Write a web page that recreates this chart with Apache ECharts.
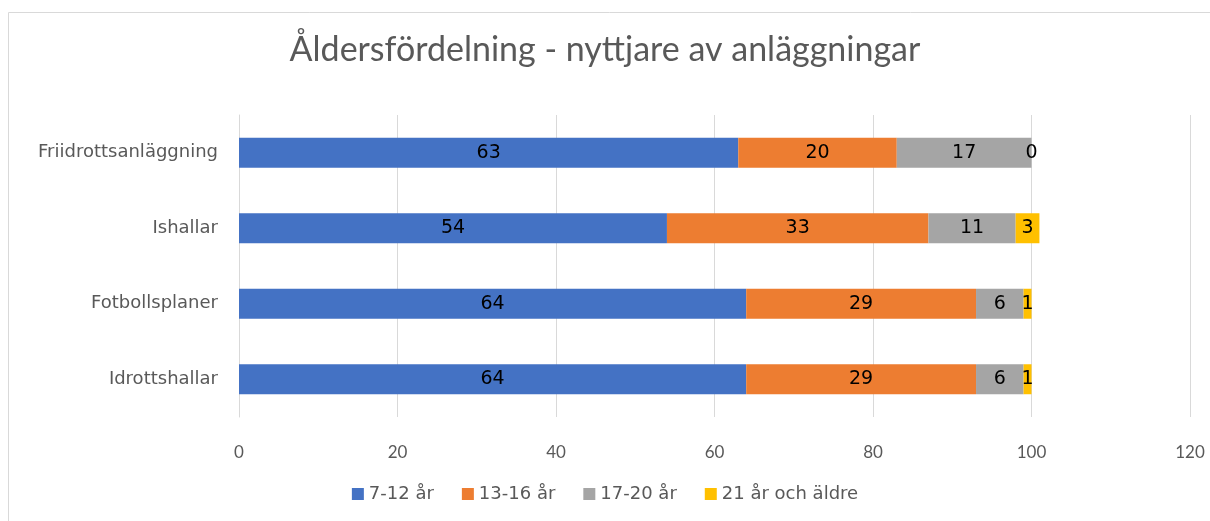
<!DOCTYPE html>
<html>
<head>
<meta charset="utf-8">
<script src="https://cdn.jsdelivr.net/npm/echarts@6/dist/echarts.min.js"></script>
<style>
  html, body { margin: 0; padding: 0; background: #fff; }
  #main { width: 1210px; height: 521px; }
</style>
</head>
<body>
<div id="main"></div>
<script>
// kategorier nerifrån och upp
var categories = ['Idrottshallar', 'Fotbollsplaner', 'Ishallar', 'Friidrottsanläggning'];
var seriesNames = ['7-12 år', '13-16 år', '17-20 år', '21 år och äldre'];
var age7to12 = [64, 64, 54, 63];
var age13to16 = [29, 29, 33, 20];
var age17to20 = [6, 6, 11, 17];
var age21plus = [1, 1, 3, 0];
var colors = ['#4472c4', '#ed7d31', '#a5a5a5', '#ffc000'];

var chart = echarts.init(document.getElementById('main'));

var allValues = [age7to12, age13to16, age17to20, age21plus];
var series = seriesNames.map(function (name, i) {
  return {
    name: name,
    type: 'bar',
    stack: 'total',
    barWidth: 30,
    data: allValues[i],
    itemStyle: { color: colors[i] },
    label: {
      show: true,
      position: 'inside',
      color: '#000',
      fontSize: 19,
      fontFamily: 'DejaVu Sans'
    }
  };
});

chart.setOption({
  animation: false,
  graphic: [{
    type: 'rect',
    shape: { x: 8.5, y: 12.5, width: 1400, height: 700 },
    style: { fill: 'none', stroke: '#d9d9d9', lineWidth: 1 },
    silent: true
  }],
  title: {
    text: 'Åldersfördelning - nyttjare av anläggningar',
    left: 'center',
    top: 28,
    textStyle: {
      color: '#595959',
      fontWeight: 'normal',
      fontSize: 34,
      fontFamily: 'Lato'
    }
  },
  legend: {
    bottom: 13,
    left: 'center',
    itemWidth: 12,
    itemHeight: 12,
    itemGap: 28,
    icon: 'rect',
    textStyle: { color: '#595959', fontSize: 18, fontFamily: 'DejaVu Sans' },
    data: seriesNames
  },
  grid: {
    left: 239,
    right: 20,
    top: 115,
    bottom: 104
  },
  xAxis: {
    type: 'value',
    min: 0,
    max: 120,
    interval: 20,
    axisLine: { show: false },
    axisTick: { show: false },
    axisLabel: { color: '#595959', fontSize: 17, margin: 27, fontFamily: 'Lato' },
    splitLine: { lineStyle: { color: '#d9d9d9', width: 1 } }
  },
  yAxis: {
    type: 'category',
    data: categories,
    axisLine: { lineStyle: { color: '#d9d9d9' } },
    axisTick: { show: false },
    axisLabel: { color: '#595959', fontSize: 18, margin: 21, fontFamily: 'DejaVu Sans' }
  },
  series: series
});
</script>
</body>
</html>
